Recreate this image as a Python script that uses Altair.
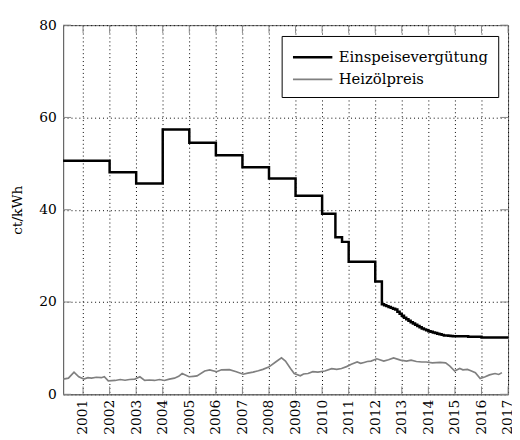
import altair as alt
import pandas as pd

SERIES = ["Einspeisevergütung", "Heizölpreis"]

eeg_t = [2000.25, 2002, 2003, 2004, 2005, 2006, 2007, 2008, 2009, 2010, 2010.5, 2010.75, 2011, 2012,
         2012.25, 2012.333, 2012.417, 2012.5, 2012.583, 2012.667, 2012.75, 2012.833, 2012.917,
         2013.0, 2013.083, 2013.167, 2013.25, 2013.333, 2013.417, 2013.5, 2013.583, 2013.667, 2013.75, 2013.833, 2013.917,
         2014.0, 2014.083, 2014.167, 2014.25, 2014.333, 2014.417, 2014.5, 2014.583, 2014.667, 2014.75, 2014.833, 2014.917,
         2015.0, 2015.5, 2016.0, 2017.0]
eeg_v = [50.62, 48.1, 45.7, 57.4, 54.53, 51.8, 49.21, 46.75, 43.01, 39.14, 34.05, 33.03, 28.74, 24.43,
         19.50, 19.31, 19.11, 18.92, 18.73, 18.54, 18.36, 17.90, 17.45,
         17.02, 16.59, 16.28, 15.92, 15.63, 15.35, 15.07, 14.80, 14.54, 14.27, 14.07, 13.88,
         13.68, 13.55, 13.41, 13.28, 13.14, 13.01, 12.88, 12.75, 12.75, 12.70, 12.65, 12.60,
         12.56, 12.47, 12.31, 12.31]

oil_t = [2000.25, 2000.45, 2000.66, 2000.84, 2001.03, 2001.18, 2001.32, 2001.50, 2001.69, 2001.80, 2001.95,
         2002.21, 2002.40, 2002.58, 2002.75, 2002.95, 2003.14, 2003.32, 2003.50, 2003.69, 2003.88, 2004.06,
         2004.25, 2004.44, 2004.60, 2004.73, 2004.99, 2005.15, 2005.29, 2005.58, 2005.77, 2006.03, 2006.21,
         2006.51, 2006.77, 2007.03, 2007.20, 2007.40, 2007.60, 2007.77, 2007.99, 2008.25, 2008.47,
         2008.62, 2008.81, 2008.95, 2009.18, 2009.30, 2009.47, 2009.65, 2009.84, 2010.10, 2010.36, 2010.55,
         2010.73, 2010.92, 2011.10, 2011.32, 2011.45, 2011.58, 2011.70, 2011.84, 2012.06, 2012.32, 2012.50,
         2012.69, 2012.95, 2013.18, 2013.35, 2013.55, 2013.75, 2013.92, 2014.15, 2014.44, 2014.65, 2014.81,
         2014.99, 2015.18, 2015.30, 2015.47, 2015.60, 2015.77, 2015.95, 2016.14, 2016.30, 2016.51, 2016.65, 2016.77]
oil_v = [3.3, 3.5, 4.8, 3.8, 3.3, 3.6, 3.5, 3.7, 3.6, 3.8, 2.9,
         3.0, 3.2, 3.05, 3.2, 3.3, 3.8, 3.0, 3.1, 3.0, 3.2, 3.0,
         3.3, 3.5, 3.9, 4.5, 3.8, 3.9, 4.0, 5.05, 5.3, 4.9, 5.3,
         5.35, 4.9, 4.35, 4.6, 4.8, 5.1, 5.4, 5.9, 7.0, 7.9,
         7.2, 5.6, 4.5, 4.0, 4.4, 4.5, 4.9, 4.8, 5.05, 5.55, 5.4,
         5.6, 6.0, 6.5, 7.0, 6.7, 6.9, 7.1, 7.2, 7.7, 7.2, 7.5,
         7.9, 7.4, 7.2, 7.4, 7.1, 7.0, 7.0, 6.8, 6.9, 6.8, 6.1,
         5.05, 5.6, 5.3, 5.4, 5.1, 4.7, 3.4, 3.8, 4.2, 4.5, 4.3, 4.7]

x_ticks = list(range(2001, 2018))
y_ticks = [0, 20, 40, 60, 80]

FONT = "DejaVu Serif"

eeg_df = pd.DataFrame({"t": eeg_t, "v": eeg_v, "s": SERIES[0]})
oil_df = pd.DataFrame({"t": oil_t, "v": oil_v, "s": SERIES[1]})
xt_df = pd.DataFrame({"t": x_ticks})
yt_df = pd.DataFrame({"v": y_ticks})

xscale = alt.Scale(domain=[2000.25, 2017], nice=False, zero=False)
yscale = alt.Scale(domain=[0, 80], nice=False)

xaxis = alt.Axis(values=x_ticks, format="d", labelAngle=-90, labelFont=FONT, labelFontSize=14,
                 labelColor="black", grid=True, gridDash=[1, 3], gridColor="#000", ticks=False,
                 domainColor="#666", labelPadding=5, labelOverlap=False, labelFlush=False,
                 labelBound=False, title=None)
yaxis = alt.Axis(values=y_ticks, labelFont=FONT, labelFontSize=14, labelColor="black", grid=True,
                 gridDash=[1, 3], gridColor="#000", ticks=False, domainColor="#666", labelPadding=7,
                 labelOverlap=False, title="ct/kWh", titleFont=FONT, titleFontSize=14,
                 titleFontWeight="normal", titleColor="black", titleAngle=-90, titleX=-46,
                 titleY=187.5, titleAlign="center", titleBaseline="middle")

color = alt.Color("s:N", scale=alt.Scale(domain=SERIES, range=["#000000", "#808080"]),
                  legend=alt.Legend(title=None, orient="none", legendX=222, legendY=11,
                                    fillColor="white", strokeColor="black", padding=10,
                                    symbolType="M-1,0H3", symbolSize=400, labelOffset=25,
                                    rowPadding=3, labelFont=FONT, labelFontSize=15,
                                    labelColor="black", cornerRadius=0))
swidth = alt.StrokeWidth("s:N", scale=alt.Scale(domain=SERIES, range=[2.5, 1.7]), legend=None)

base_tick_color = "#888"
xt_bottom = alt.Chart(xt_df).mark_rule(color=base_tick_color, strokeWidth=1).encode(
    x=alt.X("t:Q", scale=xscale, axis=xaxis), y=alt.value(375), y2=alt.value(367))
xt_top = alt.Chart(xt_df).mark_rule(color=base_tick_color, strokeWidth=1).encode(
    x=alt.X("t:Q", scale=xscale, axis=xaxis), y=alt.value(0), y2=alt.value(8))
yt_left = alt.Chart(yt_df).mark_rule(color=base_tick_color, strokeWidth=1).encode(
    y=alt.Y("v:Q", scale=yscale, axis=yaxis), x=alt.value(0), x2=alt.value(8))
yt_right = alt.Chart(yt_df).mark_rule(color=base_tick_color, strokeWidth=1).encode(
    y=alt.Y("v:Q", scale=yscale, axis=yaxis), x=alt.value(444), x2=alt.value(452))

oil = alt.Chart(oil_df).mark_line(interpolate="linear").encode(
    x=alt.X("t:Q", scale=xscale, axis=xaxis), y=alt.Y("v:Q", scale=yscale, axis=yaxis),
    color=color, strokeWidth=swidth)
eeg = alt.Chart(eeg_df).mark_line(interpolate="step-after").encode(
    x=alt.X("t:Q", scale=xscale, axis=xaxis), y=alt.Y("v:Q", scale=yscale, axis=yaxis),
    color=color, strokeWidth=swidth)

chart = alt.layer(xt_bottom, xt_top, yt_left, yt_right, oil, eeg).properties(
    width=452, height=375, autosize=alt.AutoSizeParams(type="none"),
    padding={"left": 56, "top": 14, "right": 4, "bottom": 43},
    background="white",
).configure_view(stroke="#666", strokeWidth=1)

chart.save("out.html", embed_options={"renderer": "svg", "actions": False})
